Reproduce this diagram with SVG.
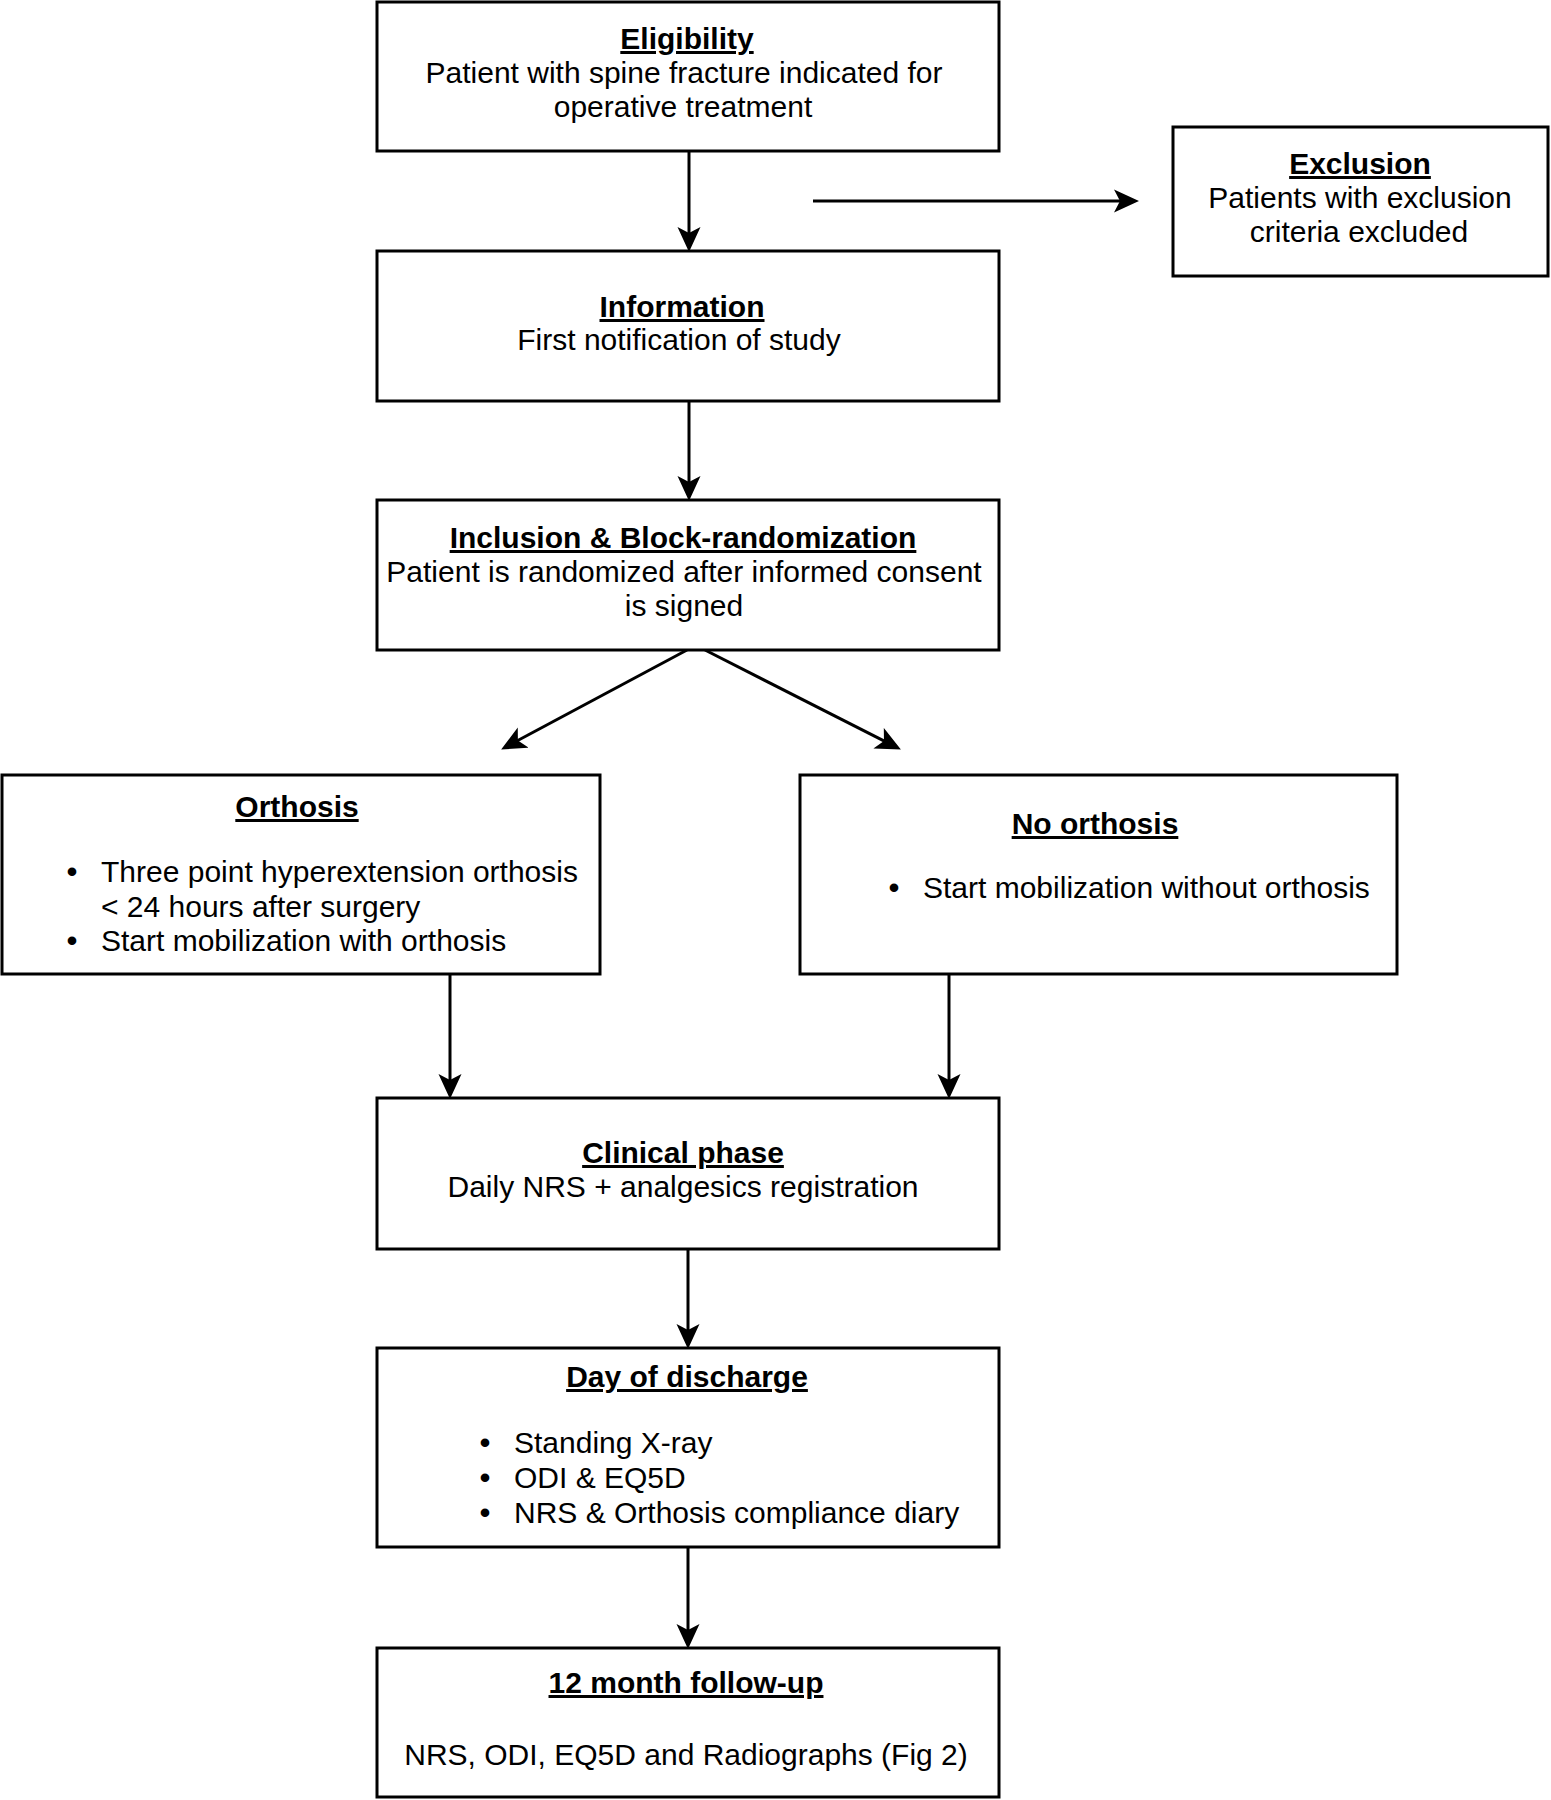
<svg xmlns="http://www.w3.org/2000/svg" width="1551" height="1800" viewBox="0 0 1551 1800">
<style>
  .box { fill: #ffffff; stroke: #000000; stroke-width: 3; }
  .t { font-family: "Liberation Sans", Arial, Helvetica, sans-serif; font-size: 30px; fill: #000000; }
  .c { text-anchor: middle; }
  .h { font-weight: bold; text-decoration: underline; }
  .b { font-family: "Liberation Sans", Arial, Helvetica, sans-serif; font-size: 30px; font-weight: bold; fill: #000000; text-anchor: middle; }
  .con { stroke: #000000; stroke-width: 3; fill: none; marker-end: url(#arr); }
</style>
<defs>
  <marker id="arr" markerUnits="userSpaceOnUse" markerWidth="30" markerHeight="30" refX="12" refY="12" orient="auto">
    <path d="M0,0.5 L25,12 L0,23.5 L6,12 Z" fill="#000000"/>
  </marker>
</defs>
<rect width="1551" height="1800" fill="#ffffff"/>

<g id="connectors">
  <line class="con" x1="689" y1="152" x2="689" y2="239"/>
  <line class="con" x1="813" y1="201" x2="1126" y2="201"/>
  <line class="con" x1="689" y1="401" x2="689" y2="488"/>
  <line class="con" x1="687" y1="650" x2="512.6" y2="743.3"/>
  <line class="con" x1="705" y1="650" x2="889.3" y2="743.6"/>
  <line class="con" x1="450" y1="974" x2="450" y2="1086"/>
  <line class="con" x1="949" y1="974" x2="949" y2="1086"/>
  <line class="con" x1="688" y1="1249" x2="688" y2="1336"/>
  <line class="con" x1="688" y1="1547" x2="688" y2="1636"/>
</g>

<g id="eligibility">
  <rect class="box" x="377" y="2" width="622" height="149"/>
  <text class="t c h" x="687" y="49">Eligibility</text>
  <text class="t c" x="684" y="83">Patient with spine fracture indicated for</text>
  <text class="t c" x="683" y="117">operative treatment</text>
</g>

<g id="exclusion">
  <rect class="box" x="1173" y="127" width="375" height="149"/>
  <text class="t c h" x="1360" y="174">Exclusion</text>
  <text class="t c" x="1360" y="208">Patients with exclusion</text>
  <text class="t c" x="1359" y="242">criteria excluded</text>
</g>

<g id="information">
  <rect class="box" x="377" y="251" width="622" height="150"/>
  <text class="t c h" x="682" y="317">Information</text>
  <text class="t c" x="679" y="350">First notification of study</text>
</g>

<g id="inclusion">
  <rect class="box" x="377" y="500" width="622" height="150"/>
  <text class="t c h" x="683" y="548">Inclusion &amp; Block-randomization</text>
  <text class="t c" x="684" y="582">Patient is randomized after informed consent</text>
  <text class="t c" x="684" y="616">is signed</text>
</g>

<g id="orthosis">
  <rect class="box" x="2" y="775" width="598" height="199"/>
  <text class="t c h" x="297" y="817">Orthosis</text>
  <text class="b" x="72" y="882">•</text>
  <text class="t" x="101" y="882">Three point hyperextension orthosis</text>
  <text class="t" x="101" y="917">&lt; 24 hours after surgery</text>
  <text class="b" x="72" y="951">•</text>
  <text class="t" x="101" y="951">Start mobilization with orthosis</text>
</g>

<g id="no-orthosis">
  <rect class="box" x="800" y="775" width="597" height="199"/>
  <text class="t c h" x="1095" y="834">No orthosis</text>
  <text class="b" x="894" y="898">•</text>
  <text class="t" x="923" y="898">Start mobilization without orthosis</text>
</g>

<g id="clinical-phase">
  <rect class="box" x="377" y="1098" width="622" height="151"/>
  <text class="t c h" x="683" y="1163">Clinical phase</text>
  <text class="t c" x="683" y="1197">Daily NRS + analgesics registration</text>
</g>

<g id="day-of-discharge">
  <rect class="box" x="377" y="1348" width="622" height="199"/>
  <text class="t c h" x="687" y="1387">Day of discharge</text>
  <text class="b" x="485" y="1453">•</text>
  <text class="t" x="514" y="1453">Standing X-ray</text>
  <text class="b" x="485" y="1488">•</text>
  <text class="t" x="514" y="1488">ODI &amp; EQ5D</text>
  <text class="b" x="485" y="1523">•</text>
  <text class="t" x="514" y="1523">NRS &amp; Orthosis compliance diary</text>
</g>

<g id="follow-up">
  <rect class="box" x="377" y="1648" width="622" height="149"/>
  <text class="t c h" x="686" y="1693">12 month follow-up</text>
  <text class="t c" x="686" y="1765">NRS, ODI, EQ5D and Radiographs (Fig 2)</text>
</g>
</svg>
